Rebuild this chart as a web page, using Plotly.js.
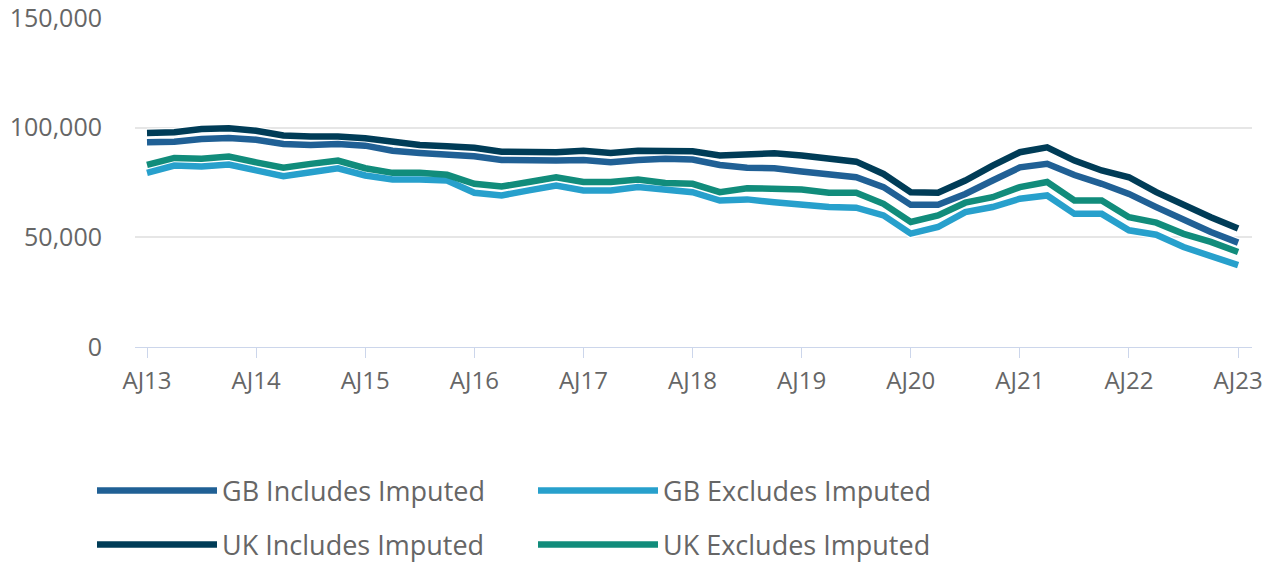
<!DOCTYPE html>
<html>
<head>
<meta charset="utf-8">
<script src="https://cdn.plot.ly/plotly-3.0.1.min.js"></script>
<style>
html,body{margin:0;padding:0;background:#fff;}
#chart{width:1274px;height:562px;}
</style>
</head>
<body>
<div id="chart"></div>
<script>
const quarters = [
 "AJ13","JS13","OD13","JM14","AJ14","JS14","OD14","JM15","AJ15","JS15","OD15","JM16",
 "AJ16","JS16","OD16","JM17","AJ17","JS17","OD17","JM18","AJ18","JS18","OD18","JM19",
 "AJ19","JS19","OD19","JM20","AJ20","JS20","OD20","JM21","AJ21","JS21","OD21","JM22",
 "AJ22","JS22","OD22","JM23","AJ23"
];
const tickLabels = ["AJ13","AJ14","AJ15","AJ16","AJ17","AJ18","AJ19","AJ20","AJ21","AJ22","AJ23"];

const gbIncludes = [93300,93600,94800,95300,94500,92600,92100,92600,91800,89500,88500,87700,
 87000,85300,85000,85000,85300,84200,85300,85800,85500,83000,81700,81500,
 80000,78900,77400,72900,64800,64800,69800,75900,81900,83500,78400,74400,
 69800,63800,57700,52400,47600];
const gbExcludes = [79400,82700,82300,83200,80500,77900,79700,81500,78200,76400,76400,75900,
 70300,69100,71400,73600,71400,71400,72900,71400,70600,66800,67300,66000,
 64800,63800,63500,60000,51700,54700,61500,63800,67600,69100,60700,60700,
 53200,51200,45600,41800,37300];
const ukIncludes = [97600,97900,99400,99700,98600,96400,96000,96000,95200,93300,92100,91500,
 90800,89000,88800,88800,89500,88500,89500,89700,89200,87300,87600,88300,
 87300,86000,84500,78900,70600,70300,75900,82700,88800,91000,85000,80500,
 77400,70600,64500,59200,54000];
const ukExcludes = [83000,86200,85800,86800,84200,81700,83500,85000,81500,79400,79400,78500,
 74400,73200,75200,77400,75200,75200,76400,74800,74400,70600,72400,72400,
 71800,70300,70300,65300,57000,60000,65800,68300,72900,75200,66800,66800,
 59200,56700,51600,47900,43300];

const names = ["GB Includes Imputed","GB Excludes Imputed","UK Includes Imputed","UK Excludes Imputed"];
const colors = ["#206095","#27a0cc","#003c57","#118c7b"];
const series = [gbIncludes, gbExcludes, ukIncludes, ukExcludes];
const legendIds = ["legend","legend","legend2","legend2"];

const xs = quarters.map((q,i)=>i);
const traces = [];
// white halos under lines
series.forEach((s,k)=>{
  traces.push({x:xs,y:s,type:"scatter",mode:"lines",showlegend:false,hoverinfo:"skip",
    line:{color:"#ffffff",width:9}});
});
series.forEach((s,k)=>{
  traces.push({x:xs,y:s,type:"scatter",mode:"lines",name:names[k],legend:legendIds[k],
    line:{color:colors[k],width:6.5}});
});

const tickVals = tickLabels.map(t=>quarters.indexOf(t));

const legendCommon = {
  orientation:"h", xanchor:"left", yanchor:"middle", xref:"container", yref:"container",
  x:92/1274,
  font:{family:"Open Sans, sans-serif", size:27, color:"#666666"},
  itemwidth:120, entrywidth:306, entrywidthmode:"pixels",
  bgcolor:"rgba(0,0,0,0)", itemclick:false, traceorder:"normal"
};

const layout = {
  width:1274, height:562,
  margin:{l:135, r:22, t:18, b:215, autoexpand:false},
  paper_bgcolor:"#ffffff", plot_bgcolor:"#ffffff",
  font:{family:"Open Sans, sans-serif", color:"#666666"},
  xaxis:{
    range:[-0.44, 40.51], tickmode:"array", tickvals:tickVals, ticktext:tickLabels,
    showgrid:false, zeroline:false, showline:true, linecolor:"#ccd6eb", linewidth:1,
    ticks:"outside", ticklen:10, tickcolor:"#ccd6eb", tickwidth:1,
    tickfont:{size:24, color:"#666666"}, ticklabelstandoff:2, fixedrange:true,
    automargin:false, ticklabeloverflow:"allow"
  },
  yaxis:{
    range:[0,150000], tickvals:[0,50000,100000,150000], ticktext:["0","50,000","100,000","150,000"],
    showgrid:true, gridcolor:"#e6e6e6", gridwidth:2, zeroline:false, showline:false,
    tickfont:{size:25, color:"#666666"}, ticklabelstandoff:32, fixedrange:true,
    automargin:false, ticklabeloverflow:"allow"
  },
  showlegend:true,
  legend:Object.assign({}, legendCommon, {y:1-491/562}),
  legend2:Object.assign({}, legendCommon, {y:1-545/562})
};

Plotly.newPlot("chart", traces, layout, {displayModeBar:false, staticPlot:true});
</script>
</body>
</html>
